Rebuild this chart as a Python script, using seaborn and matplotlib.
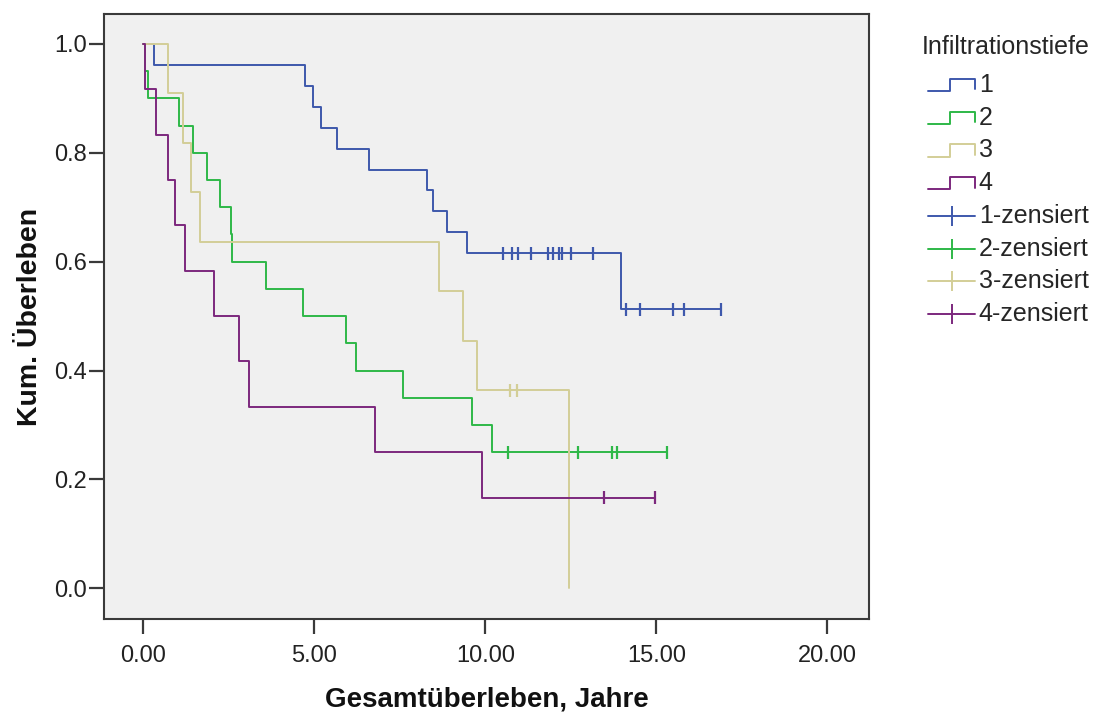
import numpy as np
import pandas as pd
import matplotlib
matplotlib.use("Agg")
import matplotlib.pyplot as plt
import seaborn as sns
from matplotlib.legend_handler import HandlerBase
from matplotlib.lines import Line2D

# ---- data (years) ----
groups = ["1", "2", "3", "4"]
events_1 = [0.31, 4.73, 4.95, 5.20, 5.67, 6.61, 8.30, 8.48, 8.87, 9.46, 13.96]
censored_1 = [10.51, 10.79, 10.96, 11.33, 11.84, 11.99, 12.15, 12.23, 12.50, 13.16,
              14.11, 14.52, 15.48, 15.82, 16.88]
events_2 = [0.05, 0.13, 1.05, 1.46, 1.85, 2.24, 2.56, 2.60, 3.59, 4.68, 5.93, 6.21,
            7.58, 9.61, 10.19]
censored_2 = [10.67, 12.72, 13.71, 13.84, 15.30]
events_3 = [0.71, 1.17, 1.39, 1.66, 8.65, 9.36, 9.75, 12.45, 12.45]
censored_3 = [10.72, 10.94]
events_4 = [0.05, 0.37, 0.73, 0.94, 1.22, 2.07, 2.80, 3.09, 6.77, 9.91]
censored_4 = [13.48, 14.96]

events = {"1": events_1, "2": events_2, "3": events_3, "4": events_4}
censored = {"1": censored_1, "2": censored_2, "3": censored_3, "4": censored_4}

legend_title = "Infiltrationstiefe"
x_label = "Gesamtüberleben, Jahre"
y_label = "Kum. Überleben"
x_ticks = [0, 5, 10, 15, 20]
x_tick_labels = ["0.00", "5.00", "10.00", "15.00", "20.00"]
y_ticks = [0.0, 0.2, 0.4, 0.6, 0.8, 1.0]
y_tick_labels = ["0.0", "0.2", "0.4", "0.6", "0.8", "1.0"]

colors = {"1": "#3E58AC", "2": "#2EB848", "3": "#D3CE97", "4": "#7C287D"}


def km(ev, ce):
    times = sorted(set(ev) | set(ce))
    at_risk = len(ev) + len(ce)
    s = 1.0
    xs, ys, cx, cy = [0.0], [1.0], [], []
    for t in times:
        d = ev.count(t)
        c = ce.count(t)
        if d:
            s *= 1 - d / at_risk
            xs.append(t)
            ys.append(s)
        if c:
            cx.append(t)
            cy.append(s)
        at_risk -= d + c
    xs.append(times[-1])
    ys.append(s)
    return xs, ys, cx, cy


curve_rows, cens_rows = [], []
for g in groups:
    xs, ys, cx, cy = km(events[g], censored[g])
    for i, (a, b) in enumerate(zip(xs, ys)):
        curve_rows.append({"t": a, "s": b, "g": g, "o": i})
    for a, b in zip(cx, cy):
        cens_rows.append({"t": a, "s": b, "g": g})
curves = pd.DataFrame(curve_rows)
cens = pd.DataFrame(cens_rows)

sns.set_theme(style="white")
plt.rcParams["font.family"] = ["Liberation Sans", "DejaVu Sans"]

fig = plt.figure(figsize=(10.94, 7.16), dpi=100)
fig.patch.set_facecolor("white")
ax = fig.add_axes([104 / 1094, 1 - 619 / 716, (869 - 104) / 1094, (619 - 14) / 716])
ax.set_facecolor("#F0F0F0")

sns.lineplot(data=curves, x="t", y="s", hue="g", palette=colors, hue_order=groups,
             drawstyle="steps-post", estimator=None, sort=False, units="g",
             legend=False, linewidth=1.4, ax=ax)
sns.scatterplot(data=cens, x="t", y="s", hue="g", palette=colors, hue_order=groups,
                marker="|", s=90, linewidth=1.6, legend=False, ax=ax, zorder=3)

ax.set_xlim(-1.15, 21.22)
ax.set_ylim(-0.0565, 1.055)
ax.set_xticks(x_ticks)
ax.set_xticklabels(x_tick_labels)
ax.set_yticks(y_ticks)
ax.set_yticklabels(y_tick_labels)
ax.tick_params(axis="both", direction="out", length=10.5, width=1.6, color="#3a3a3a",
               labelsize=17, labelcolor="#222222", left=True, bottom=True)
ax.tick_params(axis="x", pad=8)
ax.tick_params(axis="y", pad=2)
for sp in ax.spines.values():
    sp.set_visible(True)
    sp.set_color("#3a3a3a")
    sp.set_linewidth(1.5)
ax.set_xlabel(x_label, fontsize=20, fontweight="bold", labelpad=14, color="#111111")
ax.set_ylabel(y_label, fontsize=20.5, fontweight="bold", labelpad=8, color="#111111")

INDENT = 4.5  # points, handle indent relative to the legend title


class StepHandler(HandlerBase):
    def create_artists(self, legend, orig_handle, xdescent, ydescent, width, height,
                       fontsize, trans):
        x0, x1 = -xdescent + INDENT, -xdescent + width
        xm = x0 + 0.47 * (x1 - x0)
        lo = -ydescent + 0.05 * height
        hi = -ydescent + 0.75 * height
        ln = Line2D([x0, xm, xm, x1, x1], [lo, lo, hi, hi, lo + 0.1 * height],
                    color=orig_handle.get_color(), linewidth=1.4, transform=trans)
        return [ln]


class CensorHandler(HandlerBase):
    def create_artists(self, legend, orig_handle, xdescent, ydescent, width, height,
                       fontsize, trans):
        x0, x1 = -xdescent + INDENT, -xdescent + width
        yc = -ydescent + 0.4 * height
        ln = Line2D([x0, x1], [yc, yc], color=orig_handle.get_color(), linewidth=1.4,
                    transform=trans)
        mk = Line2D([(x0 + x1) / 2], [yc], color=orig_handle.get_color(), marker="|",
                    markersize=15, markeredgewidth=1.4, linestyle="none",
                    transform=trans)
        return [ln, mk]


handles, labels = [], []
hmap = {}
for g in groups:
    h = Line2D([], [], color=colors[g])
    hmap[h] = StepHandler()
    handles.append(h)
    labels.append(g)
for g in groups:
    h = Line2D([], [], color=colors[g], marker="|")
    hmap[h] = CensorHandler()
    handles.append(h)
    labels.append(f"{g}-zensiert")

leg = fig.legend(handles, labels, title=legend_title, loc="upper left",
                 bbox_to_anchor=(914.5 / 1094, 1 - 27.5 / 716), frameon=False,
                 handler_map=hmap, fontsize=18, title_fontsize=18,
                 handlelength=2.12, handletextpad=0.15, labelspacing=0.35,
                 alignment="left", borderpad=0.3, borderaxespad=0)
leg._legend_box.sep = 10

fig.savefig("out.png", dpi=100)
